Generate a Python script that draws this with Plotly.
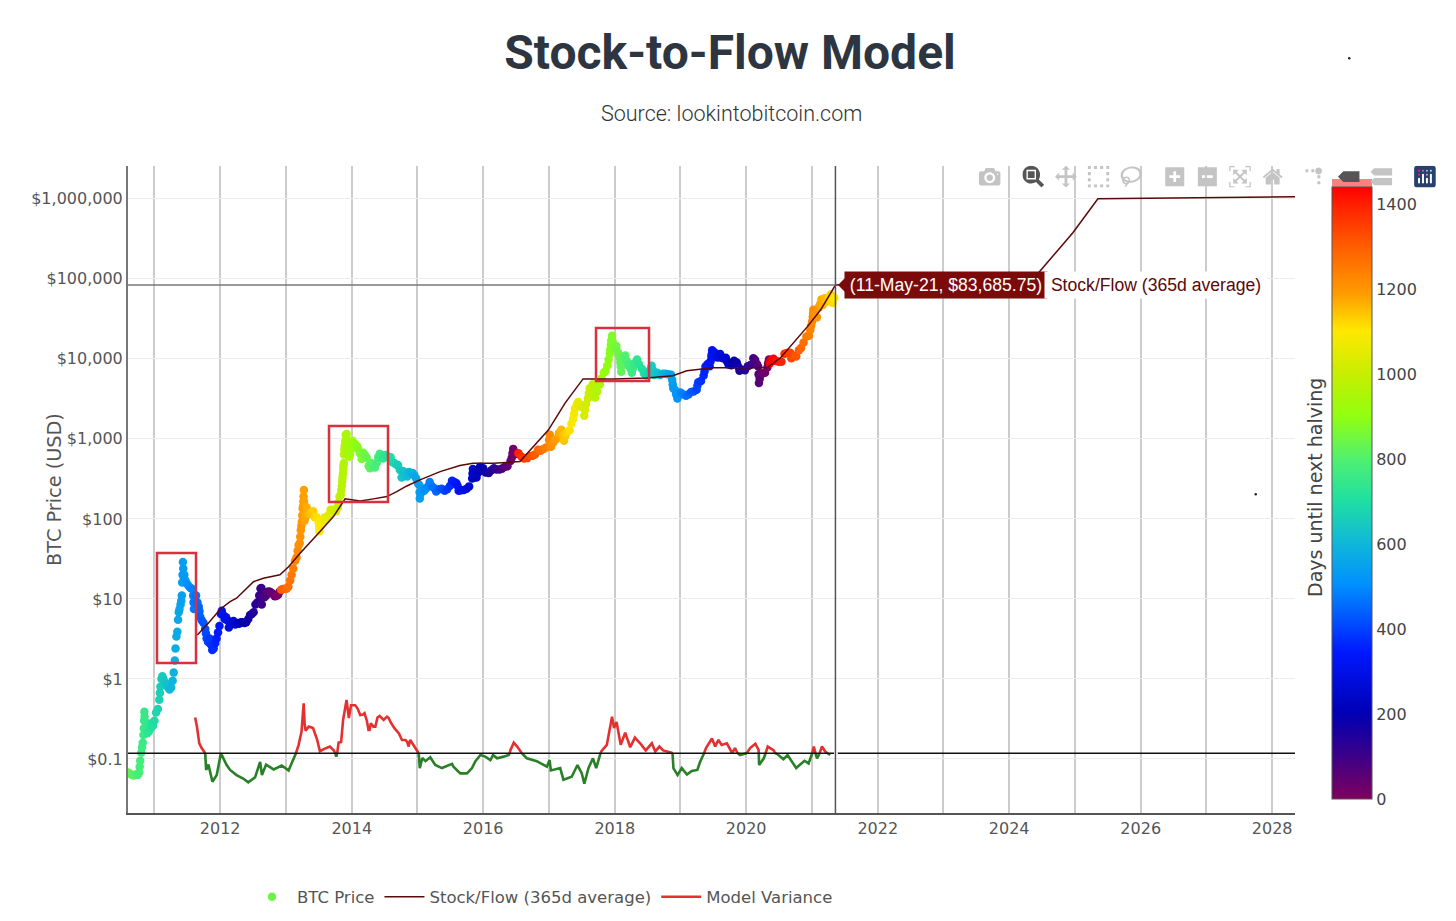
import plotly.graph_objects as go

# BTC price
btc_dates = [
    "2010-08-08", "2010-08-16", "2010-08-24", "2010-09-01", "2010-09-10", "2010-09-20", "2010-10-01", "2010-10-08",
    "2010-10-11", "2010-10-14", "2010-10-20", "2010-10-24", "2010-10-28", "2010-11-01", "2010-11-03", "2010-11-05",
    "2010-11-06", "2010-11-07", "2010-11-08", "2010-11-14", "2010-11-22",
    "2010-12-01", "2010-12-10", "2010-12-16", "2010-12-24", "2011-01-01", "2011-01-10", "2011-01-20", "2011-01-28",
    "2011-01-31", "2011-02-03", "2011-02-09", "2011-02-14", "2011-02-20", "2011-03-01", "2011-03-10", "2011-03-18", "2011-03-26",
    "2011-04-04", "2011-04-12", "2011-04-18", "2011-04-24", "2011-04-28", "2011-05-03", "2011-05-08", "2011-05-12",
    "2011-05-16", "2011-05-20", "2011-05-26", "2011-05-30", "2011-06-02", "2011-06-04", "2011-06-06", "2011-06-08",
    "2011-06-10", "2011-06-12", "2011-06-16", "2011-06-22", "2011-07-01", "2011-07-10", "2011-07-20", "2011-07-28",
    "2011-08-04", "2011-08-06", "2011-08-08", "2011-08-14", "2011-08-20", "2011-08-28", "2011-09-04", "2011-09-08", "2011-09-12", "2011-09-20",
    "2011-10-01", "2011-10-10", "2011-10-14", "2011-10-18", "2011-10-26", "2011-11-03", "2011-11-10", "2011-11-18", "2011-11-26",
    "2011-12-04", "2011-12-12", "2011-12-20", "2011-12-28", "2012-01-05", "2012-01-10", "2012-01-18", "2012-01-26",
    "2012-02-03", "2012-02-10", "2012-02-18", "2012-02-26", "2012-03-05", "2012-03-15", "2012-03-25", "2012-04-05",
    "2012-04-15", "2012-04-25", "2012-05-05", "2012-05-15", "2012-05-25", "2012-06-05", "2012-06-15", "2012-06-25",
    "2012-07-05", "2012-07-15", "2012-07-25", "2012-08-05", "2012-08-12", "2012-08-17", "2012-08-18", "2012-08-19", "2012-08-25",
    "2012-09-03", "2012-09-12", "2012-09-20", "2012-09-30", "2012-10-10", "2012-10-20", "2012-10-30", "2012-11-08",
    "2012-11-18", "2012-11-26",
    "2012-12-05", "2012-12-15", "2012-12-25", "2013-01-04", "2013-01-14", "2013-01-24", "2013-02-01", "2013-02-10",
    "2013-02-20", "2013-02-28", "2013-03-06", "2013-03-12", "2013-03-18", "2013-03-21", "2013-03-24", "2013-03-27",
    "2013-03-30", "2013-04-01", "2013-04-03", "2013-04-06", "2013-04-07", "2013-04-08", "2013-04-10", "2013-04-11",
    "2013-04-12", "2013-04-14", "2013-04-18", "2013-04-25", "2013-05-02",
    "2013-05-12", "2013-05-22", "2013-06-01", "2013-06-10", "2013-06-20", "2013-07-01", "2013-07-04", "2013-07-06",
    "2013-07-10", "2013-07-15", "2013-07-25", "2013-08-05", "2013-08-15", "2013-08-25", "2013-09-05", "2013-09-15",
    "2013-09-25", "2013-10-05", "2013-10-15", "2013-10-20", "2013-10-25", "2013-11-01", "2013-11-04", "2013-11-07",
    "2013-11-09", "2013-11-11", "2013-11-13", "2013-11-15", "2013-11-16", "2013-11-18", "2013-11-19",
    "2013-11-21", "2013-11-23", "2013-11-26", "2013-11-29", "2013-12-01", "2013-12-04", "2013-12-07", "2013-12-12",
    "2013-12-15", "2013-12-18", "2013-12-22", "2013-12-28", "2014-01-05", "2014-01-12", "2014-01-20", "2014-01-30", "2014-02-06",
    "2014-02-15", "2014-02-25", "2014-03-05", "2014-03-15", "2014-03-25", "2014-04-05", "2014-04-12", "2014-04-20",
    "2014-05-01", "2014-05-10", "2014-05-20", "2014-05-28", "2014-06-05", "2014-06-15", "2014-06-25", "2014-07-05",
    "2014-07-15", "2014-07-25", "2014-08-05", "2014-08-15", "2014-08-25", "2014-09-05", "2014-09-15", "2014-09-25",
    "2014-10-05", "2014-10-15", "2014-10-25", "2014-11-05", "2014-11-15", "2014-11-25", "2014-12-05", "2014-12-15",
    "2014-12-25", "2015-01-05", "2015-01-11", "2015-01-13", "2015-01-14", "2015-01-18", "2015-01-28", "2015-02-08", "2015-02-18",
    "2015-03-01", "2015-03-10", "2015-03-20", "2015-04-01", "2015-04-15", "2015-05-01", "2015-05-15", "2015-06-01",
    "2015-06-15", "2015-07-01", "2015-07-12", "2015-07-25", "2015-08-05", "2015-08-12", "2015-08-18", "2015-09-01", "2015-09-15",
    "2015-10-01", "2015-10-15", "2015-11-01", "2015-11-03", "2015-11-05", "2015-11-08", "2015-11-12", "2015-11-25", "2015-12-05", "2015-12-15",
    "2016-01-01", "2016-01-15", "2016-02-01", "2016-02-15", "2016-03-01", "2016-03-15", "2016-04-01", "2016-04-15",
    "2016-05-01", "2016-05-15", "2016-06-01", "2016-06-08", "2016-06-12", "2016-06-16", "2016-06-22", "2016-07-01", "2016-07-08",
    "2016-07-15", "2016-08-01", "2016-08-15", "2016-09-01", "2016-09-15", "2016-10-01", "2016-10-15", "2016-11-01",
    "2016-11-15", "2016-12-01", "2016-12-15", "2017-01-01", "2017-01-05", "2017-01-08", "2017-01-12", "2017-01-25", "2017-02-10",
    "2017-02-25", "2017-03-10", "2017-03-17", "2017-03-25", "2017-04-01", "2017-04-10", "2017-04-25", "2017-05-05", "2017-05-15",
    "2017-05-20", "2017-05-25", "2017-06-05", "2017-06-12", "2017-06-20", "2017-07-01", "2017-07-16", "2017-07-20", "2017-07-25",
    "2017-08-05", "2017-08-10", "2017-08-15", "2017-09-01", "2017-09-07", "2017-09-14", "2017-09-25", "2017-10-10", "2017-10-20",
    "2017-11-01", "2017-11-10", "2017-11-20", "2017-11-28", "2017-12-05", "2017-12-07", "2017-12-10", "2017-12-13", "2017-12-17",
    "2017-12-20", "2017-12-24", "2018-01-01", "2018-01-10", "2018-01-20", "2018-01-26", "2018-02-01", "2018-02-03", "2018-02-06",
    "2018-02-10", "2018-02-15", "2018-03-01", "2018-03-08", "2018-03-15", "2018-03-25", "2018-03-30", "2018-04-06", "2018-04-13",
    "2018-04-20", "2018-05-05", "2018-05-15", "2018-06-01", "2018-06-12", "2018-06-25", "2018-07-10", "2018-07-17", "2018-07-25",
    "2018-08-01", "2018-08-10", "2018-08-25", "2018-09-10", "2018-09-25", "2018-10-10", "2018-10-25", "2018-11-10", "2018-11-16",
    "2018-11-19", "2018-11-22", "2018-12-01", "2018-12-08", "2018-12-15", "2019-01-01", "2019-01-15", "2019-02-01", "2019-02-15",
    "2019-03-01", "2019-03-15", "2019-04-01", "2019-04-05", "2019-04-10", "2019-04-25", "2019-05-10", "2019-05-15", "2019-05-20",
    "2019-06-01", "2019-06-12", "2019-06-17", "2019-06-22", "2019-06-24", "2019-06-26", "2019-07-10", "2019-07-20", "2019-08-01",
    "2019-08-10", "2019-08-25", "2019-09-10", "2019-09-17", "2019-09-25", "2019-10-10", "2019-10-26", "2019-11-10", "2019-11-18",
    "2019-11-25", "2019-12-10", "2019-12-25", "2020-01-10", "2020-01-25", "2020-02-10", "2020-02-20", "2020-03-01", "2020-03-08",
    "2020-03-10", "2020-03-12", "2020-03-16", "2020-03-20", "2020-04-01", "2020-04-15", "2020-04-28", "2020-05-02", "2020-05-07",
    "2020-05-12", "2020-05-20", "2020-06-01", "2020-06-15", "2020-07-01", "2020-07-15", "2020-08-01", "2020-08-15", "2020-09-01",
    "2020-09-08", "2020-09-20", "2020-10-05", "2020-10-20", "2020-11-01", "2020-11-15", "2020-12-01", "2020-12-15", "2020-12-22",
    "2020-12-27", "2021-01-01", "2021-01-05", "2021-01-07", "2021-01-08", "2021-01-15", "2021-01-28", "2021-02-08", "2021-02-15",
    "2021-02-22", "2021-03-01", "2021-03-12", "2021-03-25", "2021-04-05", "2021-04-14", "2021-04-19", "2021-04-25", "2021-05-05",
]
btc_price = [
    0.068, 0.066, 0.064, 0.063, 0.062, 0.064, 0.063, 0.068,
    0.08, 0.095, 0.12, 0.14, 0.16, 0.2, 0.24, 0.3,
    0.39, 0.34, 0.3, 0.26, 0.21,
    0.22, 0.24, 0.28, 0.26, 0.30, 0.38, 0.42, 0.55,
    0.67, 0.80, 1.0, 1.08, 1.0, 0.9, 0.85, 0.78, 0.74,
    0.78, 0.95, 1.2, 1.7, 2.4, 3.4, 3.9, 5.5,
    6.8, 7.5, 8.5, 9.5, 11, 16, 20, 29,
    24, 19, 20, 17, 15.5, 14.5, 13.7, 13.4,
    11, 9, 7.5, 9.5, 11, 9, 8, 7, 6, 5.4,
    5.0, 4.2, 3.7, 3.2, 2.9, 3.2, 2.7, 2.3, 2.4,
    2.8, 3.2, 3.8, 4.6, 6.5, 7.1, 6.3, 5.6,
    5.9, 5.4, 4.4, 4.9, 5, 5.3, 4.8, 5.0,
    4.9, 5.1, 5.1, 5.0, 5.1, 5.6, 6.3, 6.5,
    6.8, 8.5, 9, 11, 13.5, 13.7, 11, 8.5, 10.5,
    10.5, 11, 12.3, 12.4, 12, 11.5, 10.8, 10.9,
    11.3, 12.3,
    13, 13.3, 13.4, 13.4, 14.2, 17, 20, 24,
    30, 33, 40, 47, 50, 60, 72, 82,
    92, 110, 135, 145, 165, 190, 230, 165,
    115, 95, 105, 140, 115,
    115, 123, 125, 105, 105, 90, 80, 70,
    82, 95, 95, 105, 100, 112, 130, 130,
    125, 125, 140, 160, 190, 200, 230, 260,
    295, 330, 370, 420, 460, 500, 640,
    740, 820, 940, 1130, 1000, 1150, 780, 880,
    720, 600, 640, 730, 950, 840, 860, 810, 750,
    660, 560, 670, 630, 580, 460, 430, 500,
    450, 440, 500, 590, 650, 590, 570, 630,
    620, 595, 590, 510, 500, 480, 470, 410,
    330, 395, 355, 340, 385, 375, 375, 350,
    320, 275, 265, 215, 180, 205, 240, 225, 240,
    255, 290, 260, 245, 220, 235, 238, 225,
    235, 260, 300, 290, 280, 260, 225, 228, 230,
    238, 255, 320, 370, 420, 370, 330, 330, 380, 450,
    430, 380, 375, 405, 430, 415, 415, 425,
    450, 455, 530, 580, 660, 750, 640, 670, 650,
    660, 600, 570, 575, 610, 615, 640, 730,
    710, 750, 780, 970, 1130, 950, 800, 900, 1000,
    1180, 1300, 1100, 950, 1080, 1200, 1280, 1550, 1780,
    2050, 2400, 2700, 2900, 2700, 2500, 1950, 2300, 2700,
    3200, 3700, 4300, 4800, 4000, 3300, 3900, 4800, 5700,
    6700, 7000, 8200, 9800, 11600, 13000, 15000, 17000, 19500,
    16500, 14000, 13500, 14500, 12000, 10500, 9000, 8000, 6900,
    8300, 10000, 11000, 9500, 8300, 8500, 7500, 6700, 7700,
    8800, 9800, 8600, 7500, 6600, 6200, 6400, 7300, 8200,
    7200, 6300, 6700, 6300, 6500, 6500, 6400, 6350, 5500,
    4800, 4300, 4100, 3600, 3200, 3800, 3600, 3450, 3600,
    3850, 3900, 4100, 4600, 5100, 5300, 6200, 7000, 8000,
    8600, 8100, 9300, 10700, 11500, 12800, 12000, 10500, 10400,
    11500, 10200, 10300, 9300, 8500, 8300, 9500, 9000, 8000,
    7100, 7300, 7200, 8100, 8400, 10200, 9700, 8600, 8000,
    6400, 5000, 5600, 6200, 6600, 6700, 7800, 8800, 9800,
    8800, 9700, 10000, 9400, 9200, 9200, 11600, 11800, 11900,
    10200, 10900, 10700, 12800, 13700, 16000, 19000, 19400, 23000,
    26000, 29300, 33500, 37000, 41000, 37000, 33000, 44000, 48000,
    55000, 47000, 57000, 52000, 59000, 63500, 56000, 50000, 58000,
]
days_to_halving = [
    843, 835, 827, 819, 810, 800, 789, 782,
    779, 776, 770, 766, 762, 758, 756, 754,
    753, 752, 751, 745, 737,
    728, 719, 713, 705, 697, 688, 678, 670,
    667, 664, 658, 653, 647, 638, 629, 621, 613,
    604, 596, 590, 584, 580, 575, 570, 566,
    562, 558, 552, 548, 545, 543, 541, 539,
    537, 535, 531, 525, 516, 507, 497, 489,
    482, 480, 478, 472, 466, 458, 451, 447, 443, 435,
    424, 415, 411, 407, 399, 391, 384, 376, 368,
    360, 352, 344, 336, 328, 323, 315, 307,
    299, 292, 284, 276, 268, 258, 248, 237,
    227, 217, 207, 197, 187, 176, 166, 156,
    146, 136, 126, 115, 108, 103, 102, 101, 95,
    86, 77, 69, 59, 49, 39, 29, 20,
    10, 2,
    1312, 1302, 1292, 1282, 1272, 1262, 1254, 1245,
    1235, 1227, 1221, 1215, 1209, 1206, 1203, 1200,
    1197, 1195, 1193, 1190, 1189, 1188, 1186, 1185,
    1184, 1182, 1178, 1171, 1164,
    1154, 1144, 1134, 1125, 1115, 1104, 1101, 1099,
    1095, 1090, 1080, 1069, 1059, 1049, 1038, 1028,
    1018, 1008, 998, 993, 988, 981, 978, 975,
    973, 971, 969, 967, 966, 964, 963,
    961, 959, 956, 953, 951, 948, 945, 940,
    937, 934, 930, 924, 916, 909, 901, 891, 884,
    875, 865, 857, 847, 837, 826, 819, 811,
    799, 790, 780, 772, 764, 754, 744, 734,
    724, 714, 703, 693, 683, 672, 662, 652,
    642, 632, 622, 611, 601, 591, 581, 571,
    561, 550, 544, 542, 541, 537, 527, 516, 506,
    495, 486, 476, 464, 450, 434, 420, 403,
    389, 373, 362, 349, 338, 331, 325, 312, 298,
    281, 267, 251, 249, 247, 244, 240, 227, 217, 207,
    190, 175, 159, 145, 130, 116, 99, 85,
    69, 55, 38, 31, 27, 23, 17, 8, 1,
    1396, 1379, 1365, 1348, 1334, 1318, 1304, 1287,
    1273, 1257, 1243, 1226, 1222, 1219, 1215, 1202, 1186,
    1171, 1158, 1151, 1143, 1136, 1127, 1112, 1102, 1092,
    1087, 1082, 1071, 1064, 1056, 1045, 1030, 1026, 1021,
    1009, 1004, 999, 982, 976, 969, 958, 944, 934,
    921, 912, 903, 895, 888, 886, 883, 880, 876,
    873, 869, 861, 852, 842, 836, 830, 828, 825,
    821, 816, 802, 795, 788, 778, 773, 766, 759,
    752, 737, 727, 710, 699, 686, 671, 664, 656,
    649, 639, 624, 609, 594, 579, 564, 548, 542,
    539, 536, 527, 520, 513, 496, 482, 464, 450,
    436, 422, 405, 401, 396, 381, 366, 361, 356,
    344, 333, 328, 323, 321, 319, 305, 295, 283,
    274, 259, 244, 237, 229, 214, 198, 183, 175,
    168, 153, 138, 122, 107, 91, 81, 71, 64,
    62, 60, 56, 52, 40, 26, 13, 9, 4,
    1460, 1452, 1440, 1426, 1410, 1396, 1379, 1365, 1348,
    1341, 1329, 1314, 1299, 1287, 1273, 1256, 1242, 1235,
    1230, 1226, 1222, 1220, 1219, 1212, 1199, 1188, 1181,
    1174, 1167, 1156, 1143, 1132, 1123, 1118, 1112, 1102,
]
assert len(btc_dates) == len(btc_price) == len(days_to_halving)

sf_dates = [
    "2011-08-27", "2011-10-27", "2012-01-01", "2012-02-25", "2012-04-01", "2012-05-18", "2012-07-04", "2012-08-28",
    "2012-11-28", "2013-01-15", "2013-03-20", "2013-07-09", "2013-09-21", "2013-11-25", "2014-02-17", "2014-05-01",
    "2014-07-15", "2014-09-08", "2014-11-03", "2015-01-15", "2015-05-07", "2015-08-25", "2015-11-05", "2016-02-27",
    "2016-07-23", "2016-12-28", "2017-04-01", "2017-07-09", "2017-12-25", "2018-06-28", "2018-11-20", "2019-02-05",
    "2019-07-01", "2019-10-20", "2020-04-25", "2020-07-08", "2020-12-05", "2021-02-17", "2021-05-11", "2021-08-01",
    "2023-06-01", "2024-05-11", "2024-07-01", "2024-12-20", "2025-05-08", "2028-05-07",
]
sf_value = [
    3.55, 4.97, 7.43, 9.25, 10.2, 13, 16.4, 18.1,
    20, 25.3, 37.2, 69.4, 107, 178, 168, 178,
    190, 219, 258, 307, 390, 464, 497, 497,
    520, 1290, 2820, 5620, 5620, 5750, 6170, 7080,
    7720, 7720, 7720, 10200, 25100, 40700, 83685.75, 85000,
    92000, 98000, 133000, 376000, 1000000, 1059000,
]

variance_dates = [
    "2011-08-15", "2011-08-25", "2011-09-07", "2011-09-20", "2011-10-10", "2011-10-15", "2011-10-28", "2011-11-19",
    "2011-12-13", "2012-01-05", "2012-01-10", "2012-02-06", "2012-02-25", "2012-04-01", "2012-05-08", "2012-06-05",
    "2012-07-13", "2012-08-10", "2012-08-20", "2012-09-12", "2012-10-24", "2012-12-08", "2013-01-15", "2013-02-20",
    "2013-02-25", "2013-03-12", "2013-03-28", "2013-04-09", "2013-04-14", "2013-04-20", "2013-05-07", "2013-05-31",
    "2013-06-23", "2013-07-08", "2013-07-30", "2013-09-01", "2013-09-23", "2013-10-01", "2013-10-07", "2013-10-12",
    "2013-10-20", "2013-11-03", "2013-11-14", "2013-12-03", "2013-12-16", "2013-12-28", "2014-01-20", "2014-02-02",
    "2014-02-17", "2014-03-04", "2014-03-13", "2014-03-26", "2014-04-04", "2014-04-10", "2014-04-17", "2014-05-01",
    "2014-05-12", "2014-05-24", "2014-06-05", "2014-06-27", "2014-07-16", "2014-07-25", "2014-08-04", "2014-08-26",
    "2014-09-20", "2014-10-07", "2014-10-26", "2014-11-05", "2014-11-13", "2014-11-22", "2014-12-11", "2014-12-20",
    "2015-01-08", "2015-01-14", "2015-01-28", "2015-02-15",
    "2015-03-13", "2015-04-10", "2015-05-17", "2015-07-12", "2015-07-20", "2015-08-27", "2015-10-03", "2015-10-31",
    "2015-11-19", "2015-12-17", "2016-01-13", "2016-02-10", "2016-02-25", "2016-03-18", "2016-04-24", "2016-05-22",
    "2016-05-27", "2016-06-01", "2016-06-19", "2016-07-08", "2016-08-03", "2016-08-31", "2016-10-25", "2016-12-20",
    "2017-01-04", "2017-01-11", "2017-03-04", "2017-03-22", "2017-05-07", "2017-06-08", "2017-07-02", "2017-07-16",
    "2017-08-08", "2017-09-02", "2017-09-20", "2017-10-14", "2017-10-18", "2017-11-18", "2017-12-17", "2017-12-28",
    "2018-01-11", "2018-02-03", "2018-02-28", "2018-03-28", "2018-04-23", "2018-05-22", "2018-06-22", "2018-07-26",
    "2018-08-14", "2018-09-06", "2018-09-27", "2018-11-13", "2018-11-18", "2018-11-23", "2018-12-16", "2019-01-08",
    "2019-02-06", "2019-03-05", "2019-04-05", "2019-04-20", "2019-05-12", "2019-05-23", "2019-06-25", "2019-07-13",
    "2019-07-31", "2019-08-18", "2019-09-16", "2019-10-05", "2019-10-15", "2019-10-31", "2019-11-15", "2019-11-28",
    "2020-01-04", "2020-01-23", "2020-02-21", "2020-03-10", "2020-03-11", "2020-03-13", "2020-04-08", "2020-04-18",
    "2020-04-30", "2020-06-02", "2020-06-10", "2020-06-20", "2020-07-26", "2020-08-18", "2020-10-05", "2020-11-20",
    "2020-12-13", "2021-01-02", "2021-01-11", "2021-01-20", "2021-01-29", "2021-02-12", "2021-02-25", "2021-03-15",
    "2021-03-28", "2021-04-12",
]
variance_value = [
    0.33, 0.254, 0.157, 0.137, 0.118, 0.073, 0.085, 0.052,
    0.063, 0.118, 0.112, 0.084, 0.073, 0.063, 0.057, 0.051,
    0.059, 0.092, 0.063, 0.085, 0.074, 0.083, 0.072, 0.113,
    0.118, 0.15, 0.22, 0.496, 0.279, 0.225, 0.254, 0.243,
    0.173, 0.125, 0.133, 0.143, 0.128, 0.118, 0.107, 0.118,
    0.16, 0.163, 0.307, 0.546, 0.325, 0.47, 0.47, 0.43,
    0.355, 0.36, 0.373, 0.30, 0.231, 0.231, 0.279, 0.254,
    0.254, 0.33, 0.345, 0.307, 0.338, 0.325, 0.29, 0.243,
    0.209, 0.173, 0.173, 0.163, 0.143, 0.173, 0.148, 0.137,
    0.118, 0.077, 0.103, 0.094,
    0.105, 0.084, 0.077, 0.087, 0.08, 0.066, 0.066, 0.077,
    0.094, 0.112, 0.107, 0.097, 0.112, 0.102, 0.107, 0.112,
    0.118, 0.13, 0.16, 0.143, 0.118, 0.102, 0.094, 0.08,
    0.097, 0.072, 0.077, 0.055, 0.06, 0.084, 0.066, 0.049,
    0.077, 0.102, 0.077, 0.118, 0.124, 0.15, 0.338, 0.243,
    0.29, 0.15, 0.213, 0.14, 0.185, 0.157, 0.128, 0.157,
    0.124, 0.143, 0.128, 0.12, 0.118, 0.077, 0.063, 0.077,
    0.064, 0.071, 0.073, 0.092, 0.118, 0.137, 0.18, 0.143,
    0.173, 0.15, 0.157, 0.128, 0.118, 0.137, 0.118, 0.112,
    0.118, 0.137, 0.155, 0.13, 0.118, 0.084, 0.102, 0.118,
    0.143, 0.128, 0.118, 0.116, 0.099, 0.112, 0.077, 0.095,
    0.088, 0.118, 0.143, 0.118, 0.102, 0.118, 0.143, 0.124,
    0.118, 0.112,
]
assert len(variance_dates) == len(variance_value)
variance_base = 0.118

y_ticks = [0.1, 1, 10, 100, 1000, 10000, 100000, 1000000]
y_labels = ["$0.1", "$1", "$10", "$100", "$1,000", "$10,000", "$100,000", "$1,000,000"]
bar_ticks = [0, 200, 400, 600, 800, 1000, 1200, 1400]

days_scale = [
    [0, "#80005f"], [0.07, "#3c0088"], [0.14, "#0000b4"], [0.24, "#0018ff"], [0.35, "#0090ff"],
    [0.42, "#10b8d8"], [0.49, "#20e0a0"], [0.555, "#50f070"], [0.625, "#90ff10"], [0.695, "#c8ee00"],
    [0.765, "#ffe800"], [0.825, "#ff9c00"], [0.9, "#ff6000"], [0.97, "#ff2000"], [1, "#ff0000"],
]

# plot area in the picture: x 128-1295, y 166-813
def px(x):
    return (x - 128) / 1167

def py(y):
    return (813 - y) / 647

grey = "#555555"
maroon = "#5a0808"
red_box = "#d8303f"

fig = go.Figure()
fig.add_trace(go.Scatter(
    x=btc_dates, y=btc_price, mode="markers", name="BTC Price",
    marker=dict(size=8.5, color=days_to_halving, colorscale=days_scale, cmin=0, cmax=1442,
                colorbar=dict(x=px(1332), xanchor="left", xpad=0, y=py(493), yanchor="middle", ypad=0,
                              len=(799 - 187) / 647, thickness=40, outlinecolor="#555", outlinewidth=1,
                              tickvals=bar_ticks, ticks="", tickfont=dict(size=16, color="#444"))),
))
fig.add_trace(go.Scatter(x=sf_dates, y=sf_value, mode="lines", name="Stock/Flow (365d average)",
                         line=dict(color=maroon, width=1.5)))
fig.add_trace(go.Scatter(
    x=variance_dates, y=[v if v >= variance_base else None for v in variance_value],
    mode="lines", name="Model Variance", line=dict(color="#e53030", width=2.6),
))
fig.add_trace(go.Scatter(
    x=variance_dates, y=[v if v <= variance_base else None for v in variance_value],
    mode="lines", showlegend=False, line=dict(color="#2a8028", width=2.6),
))
fig.add_trace(go.Scatter(
    x=["2010-08-07", "2021-05-03", None, "2021-05-24", "2028-05-07"],
    y=[variance_base, variance_base, None, variance_base, variance_base],
    mode="lines", showlegend=False, line=dict(color="#111", width=1.5),
))

shapes = [
    dict(type="line", xref="x", yref="paper", x0="2021-05-11", x1="2021-05-11", y0=0, y1=1,
         line=dict(color="#555", width=1.5)),
    dict(type="line", xref="paper", yref="paper", x0=0, x1=px(835), y0=py(285), y1=py(285),
         line=dict(color="#777", width=1.5)),
    dict(type="path", xref="paper", yref="paper", fillcolor="#7b0a0a", line=dict(width=0),
         path=f"M{px(846)},{py(277)} L{px(838)},{py(285)} L{px(846)},{py(293)} Z"),
    # pale cap at the top of the colour bar
    dict(type="rect", xref="paper", yref="paper", x0=px(1332), x1=px(1372), y0=py(187), y1=py(179),
         fillcolor="#ff8080", line=dict(width=0)),
    # stray dots on the page
    dict(type="circle", xref="paper", yref="paper", x0=px(1348), x1=px(1350.5), y0=py(59.5), y1=py(57),
         fillcolor="#222", line=dict(width=0)),
    dict(type="circle", xref="paper", yref="paper", x0=px(1254.5), x1=px(1257), y0=py(495.5), y1=py(493),
         fillcolor="#222", line=dict(width=0)),
]
for x0, y0, x1, y1 in [(157, 553, 196, 663), (329, 426, 388, 502), (596, 328, 649, 381)]:
    shapes.append(dict(type="rect", xref="paper", yref="paper", x0=px(x0), x1=px(x1), y0=py(y1), y1=py(y0),
                       line=dict(color=red_box, width=2.5)))

note = dict(xref="paper", yref="paper", showarrow=False, xanchor="center", yanchor="middle")
annotations = [
    dict(note, text="Source: lookintobitcoin.com", x=px(731), y=py(113),
         font=dict(family="Roboto", size=21.5, weight=300, color="#333")),
    dict(note, text="BTC Price (USD)", x=px(54), y=py(489), textangle=-90,
         font=dict(size=19.3, color=grey)),
    dict(note, text="Days until next halving", x=px(1315), y=py(488), textangle=-90,
         font=dict(size=19, color="#444")),
    dict(note, text="(11-May-21, $83,685.75)", x=px(946), y=py(285), width=200, height=24, bgcolor="#7b0a0a",
         font=dict(family="Liberation Sans", size=17.6, color="white")),
    dict(note, text="Stock/Flow (365d average)", x=px(1156), y=py(285), width=220, height=24, bgcolor="white",
         font=dict(family="Liberation Sans", size=17.6, color=maroon)),
]

fig.update_layout(
    width=1456, height=921,
    margin=dict(l=128, r=161, t=166, b=108, autoexpand=False),
    paper_bgcolor="white", plot_bgcolor="white",
    font=dict(family="DejaVu Sans", size=16, color=grey),
    title=dict(text="<b>Stock-to-Flow Model</b>", xref="container", x=730 / 1456, xanchor="center",
               yref="container", y=(921 - 52) / 921, yanchor="middle",
               font=dict(family="Roboto", size=48, color="#2d3640")),
    legend=dict(orientation="h", x=px(247), xanchor="left", y=py(897), yanchor="middle",
                font=dict(size=16.5, color=grey), itemwidth=40),
    hovermode="closest", dragmode="zoom",
    modebar=dict(bgcolor="rgba(0,0,0,0)", color="#c4c4c4", activecolor="#555"),
    shapes=shapes, annotations=annotations,
)
fig.update_xaxes(
    type="date", range=["2010-08-07", "2028-05-07"], dtick="M24", tick0="2012-01-01", tickformat="%Y",
    showgrid=True, gridcolor="#cccccc", gridwidth=1.5,
    minor=dict(dtick="M12", showgrid=True, gridcolor="#cccccc", gridwidth=1.5),
    showline=True, linecolor="#555", linewidth=1.5, zeroline=False, ticks="", tickfont=dict(size=16),
)
fig.update_yaxes(
    type="log", range=[-1.675, 6.41], tickvals=y_ticks, ticktext=y_labels,
    showgrid=True, gridcolor="#ececec", gridwidth=1,
    showline=True, linecolor="#777", linewidth=2, zeroline=False, ticks="", tickfont=dict(size=16),
)

modebar_buttons = [
    ["toImage"],
    ["zoom2d", "pan2d", "select2d", "lasso2d"],
    ["zoomIn2d", "zoomOut2d", "autoScale2d", "resetScale2d"],
    ["toggleSpikelines", "hoverClosestCartesian", "hoverCompareCartesian"],
]
fig.write_html(
    "out.html",
    config=dict(displayModeBar=True, displaylogo=True, modeBarButtons=modebar_buttons),
    post_script="document.body.style.margin='0';"
                "var mb=document.querySelector('.modebar-container');"
                "if(mb){mb.style.top='159px';mb.style.right='12px';"
                "mb.style.transform='scale(1.36)';mb.style.transformOrigin='top right';}"
                "var st=document.createElement('style');"
                "st.textContent='.modebar-btn--logo svg rect{fill:#27406e!important}';"
                "document.head.appendChild(st);",
)
